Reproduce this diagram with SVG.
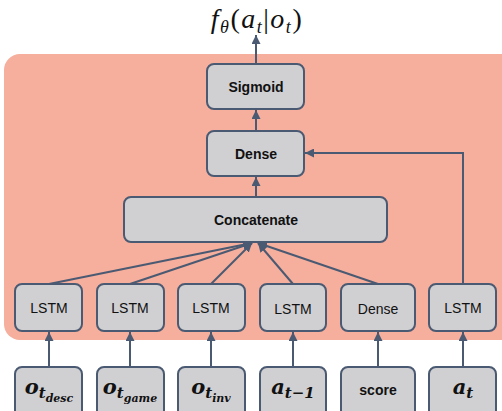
<svg xmlns="http://www.w3.org/2000/svg" width="502" height="411" viewBox="0 0 502 411">
<defs>
<marker id="ah" viewBox="0 0 10 10" refX="10" refY="5" markerWidth="9" markerHeight="9" markerUnits="userSpaceOnUse" orient="auto">
<path d="M0,0 L10,5 L0,10 z" fill="#4A5A72"/>
</marker>
</defs>
<style>
.box{fill:#D0CFD1;stroke:#4A5A72;stroke-width:2}
.lbl{font-family:"Liberation Sans",Arial,sans-serif;font-size:14px;fill:#111;text-anchor:middle}
.b{font-weight:bold}
.m{font-family:"DejaVu Serif","Liberation Serif",serif;font-style:italic;font-weight:bold;fill:#111}
.c{fill:none;stroke:#4A5A72;stroke-width:2;marker-end:url(#ah)}
</style>
<rect x="4" y="54" width="512" height="286" rx="16" fill="#F6AE9D"/>
<text x="257" y="28" font-family="Liberation Serif,serif" font-style="italic" font-size="28" letter-spacing="1.5" text-anchor="middle" fill="#111">f<tspan font-size="18" dy="5">θ</tspan><tspan dy="-5" font-style="normal">(</tspan>a<tspan font-size="18" dy="5">t</tspan><tspan dy="-5" font-style="normal">|</tspan>o<tspan font-size="18" dy="5">t</tspan><tspan dy="-5" font-style="normal">)</tspan></text>
<g id="connectors">
<line class="c" x1="256" y1="64" x2="256" y2="35"/>
<line class="c" x1="256" y1="131" x2="256" y2="110"/>
<line class="c" x1="256" y1="197" x2="256" y2="177"/>
<polyline class="c" points="463,284 463,153 305,153"/>
<line class="c" x1="49" y1="284" x2="252" y2="243"/>
<line class="c" x1="130" y1="284" x2="252" y2="243"/>
<line class="c" x1="211" y1="284" x2="252" y2="243"/>
<line class="c" x1="293" y1="284" x2="258" y2="243"/>
<line class="c" x1="378" y1="284" x2="258" y2="243"/>
<line class="c" x1="49" y1="367" x2="49" y2="332"/>
<line class="c" x1="130" y1="367" x2="130" y2="332"/>
<line class="c" x1="211" y1="367" x2="211" y2="332"/>
<line class="c" x1="293" y1="367" x2="293" y2="332"/>
<line class="c" x1="378" y1="367" x2="378" y2="332"/>
<line class="c" x1="463" y1="367" x2="463" y2="332"/>
</g>
<g id="sigmoid"><rect class="box" x="207" y="64" width="97" height="45" rx="7"/><text class="lbl b" x="256" y="92">Sigmoid</text></g>
<g id="dense_top"><rect class="box" x="207" y="131" width="97" height="45" rx="7"/><text class="lbl b" x="256" y="159">Dense</text></g>
<g id="concat"><rect class="box" x="124" y="197" width="263" height="45" rx="7"/><text class="lbl b" x="256" y="225">Concatenate</text></g>
<g id="lstm1"><rect class="box" x="15" y="284" width="67" height="47" rx="7"/><text class="lbl" x="49" y="313">LSTM</text></g>
<g id="lstm2"><rect class="box" x="97" y="284" width="67" height="47" rx="7"/><text class="lbl" x="130" y="313">LSTM</text></g>
<g id="lstm3"><rect class="box" x="178" y="284" width="67" height="47" rx="7"/><text class="lbl" x="211" y="313">LSTM</text></g>
<g id="lstm4"><rect class="box" x="260" y="284" width="66" height="47" rx="7"/><text class="lbl" x="293" y="314">LSTM</text></g>
<g id="dense_score"><rect class="box" x="341" y="284" width="74" height="47" rx="7"/><text class="lbl" x="378" y="314">Dense</text></g>
<g id="lstm6"><rect class="box" x="429" y="284" width="67" height="47" rx="7"/><text class="lbl" x="463" y="313">LSTM</text></g>
<g id="in_desc"><rect class="box" x="15" y="367" width="67" height="52" rx="7"/><text class="m" x="49" y="394" text-anchor="middle" font-size="21">o<tspan font-size="15" dy="4">t</tspan><tspan font-size="11" dy="4">desc</tspan></text></g>
<g id="in_game"><rect class="box" x="97" y="367" width="67" height="52" rx="7"/><text class="m" x="130" y="394" text-anchor="middle" font-size="21">o<tspan font-size="15" dy="4">t</tspan><tspan font-size="11" dy="4">game</tspan></text></g>
<g id="in_inv"><rect class="box" x="178" y="367" width="67" height="52" rx="7"/><text class="m" x="211" y="394" text-anchor="middle" font-size="21">o<tspan font-size="15" dy="4">t</tspan><tspan font-size="11" dy="4">inv</tspan></text></g>
<g id="in_prev"><rect class="box" x="260" y="367" width="66" height="52" rx="7"/><text class="m" x="293" y="394" text-anchor="middle" font-size="21">a<tspan font-size="15" dy="4">t−1</tspan></text></g>
<g id="in_score"><rect class="box" x="341" y="367" width="74" height="52" rx="7"/><text class="lbl b" x="378" y="395" font-size="16" font-family="Open Sans,Liberation Sans,sans-serif">score</text></g>
<g id="in_at"><rect class="box" x="429" y="367" width="67" height="52" rx="7"/><text class="m" x="463" y="394" text-anchor="middle" font-size="21">a<tspan font-size="15" dy="4">t</tspan></text></g>
</svg>
